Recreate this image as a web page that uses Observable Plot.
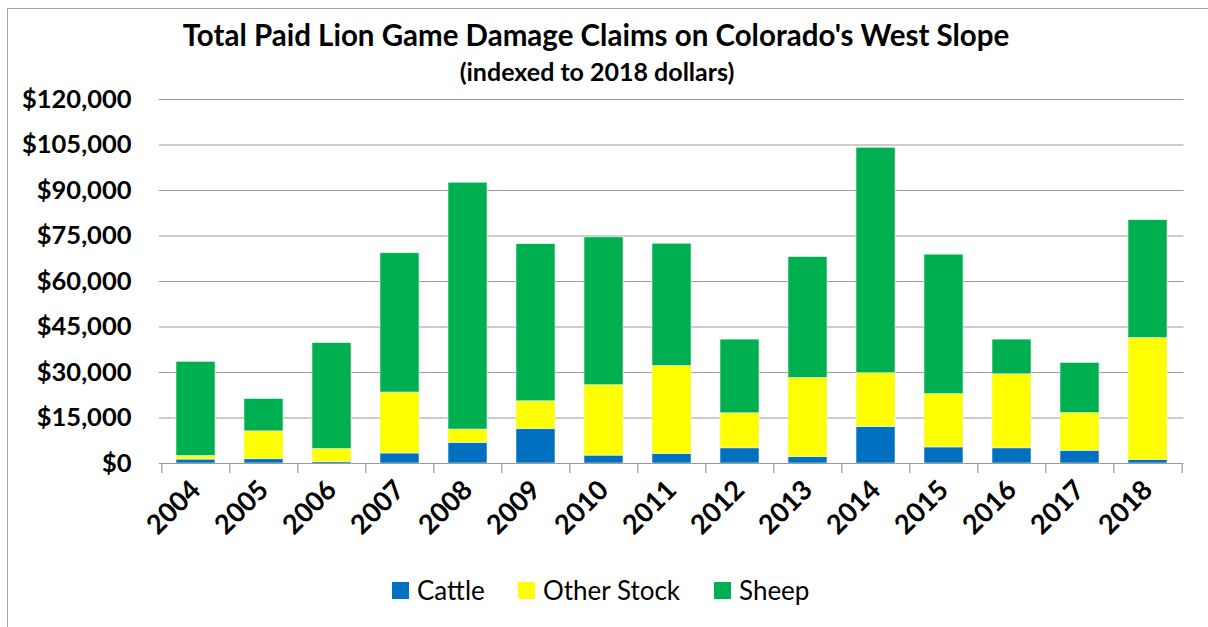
<!DOCTYPE html>
<html>
<head>
<meta charset="utf-8">
<script src="https://cdn.jsdelivr.net/npm/d3@7"></script>
<script src="https://cdn.jsdelivr.net/npm/@observablehq/plot@0.6"></script>
<style>
  html, body { margin: 0; padding: 0; background: #fff; }
  #wrap { position: relative; width: 1208px; height: 627px; overflow: hidden; font-family: Lato, "Open Sans", sans-serif; }
  #frame { position: absolute; left: 7px; top: 8px; width: 1300px; height: 700px; border-top: 1px solid #a6a6a6; border-left: 1px solid #a6a6a6; }
  #title { position: absolute; left: 0; width: 1192px; top: 17px; text-align: center; font-weight: bold; font-size: 29.5px; color: #000; line-height: 36px; }
  #subtitle { position: absolute; left: 0; width: 1194px; top: 57px; text-align: center; font-weight: bold; font-size: 25px; color: #000; line-height: 28px; }
  #chart { position: absolute; left: 0; top: 75px; }
  #legend { position: absolute; top: 575px; left: 0; width: 1208px; height: 30px; }
  .item { position: absolute; top: 0; display: flex; align-items: center; height: 30px; font-size: 26px; color: #000; }
  .sw { width: 17px; height: 17px; margin-right: 8px; }
</style>
</head>
<body>
<div id="wrap">
  <div id="frame"></div>
  <div id="title">Total Paid Lion Game Damage Claims on Colorado's West Slope</div>
  <div id="subtitle">(indexed to 2018 dollars)</div>
  <div id="chart"></div>
  <div id="legend"></div>
</div>
<script>
const years = ["2004","2005","2006","2007","2008","2009","2010","2011","2012","2013","2014","2015","2016","2017","2018"];
const cattle     = [1300, 1400,  500,  3300,  6800, 11300,  2600,  3100,  5000,  2100, 12000,  5300,  5000,  4200,  1200];
const otherStock = [1200, 9200, 4300, 20100,  4400,  9200, 23200, 29050, 11550, 26100, 17750, 17550, 24400, 12400, 40150];
const sheep      = [31000, 10650, 34900, 45900, 81350, 51800, 48750, 40300, 24300, 39850, 74350, 46000, 11450, 16550, 38850];
const yTicks = [0, 15000, 30000, 45000, 60000, 75000, 90000, 105000, 120000];
const seriesNames = ["Cattle", "Other Stock", "Sheep"];
const seriesColors = ["#0070C0", "#FFFF00", "#00B050"];
const seriesValues = [cattle, otherStock, sheep];

const rows = [];
years.forEach((yr, i) => {
  seriesNames.forEach((s, k) => rows.push({year: yr, type: s, value: seriesValues[k][i]}));
});

const W = 1208, ML = 159, MR = 24.5;
const step = (W - ML - MR) / years.length;
const fmt = d => "$" + d3.format(",")(d);

const chart = Plot.plot({
  width: W,
  height: 490,
  marginTop: 24,
  marginBottom: 102,
  marginLeft: ML,
  marginRight: MR,
  style: { fontFamily: "Lato, 'Open Sans', sans-serif", background: "transparent", color: "#000", overflow: "visible" },
  x: { domain: years, paddingInner: 0.43, paddingOuter: 0.215, axis: null },
  y: { domain: [0, 120000], axis: null },
  color: { domain: seriesNames, range: seriesColors },
  marks: [
    Plot.ruleY(yTicks.slice(1), { stroke: "#9a9a9a", strokeWidth: 1.2 }),
    Plot.barY(rows, { x: "year", y: "value", fill: "type", stroke: "#e8f5ec", strokeWidth: 0.6 }),
    Plot.ruleY([0], { stroke: "#9a9a9a", strokeWidth: 1.2 }),
    Plot.ruleX(years, { x: d => d, y1: 0, y2: 0, insetBottom: -10, dx: -step / 2, stroke: "#9a9a9a", strokeWidth: 1.2 }),
    Plot.ruleX(years.slice(-1), { x: d => d, y1: 0, y2: 0, insetBottom: -10, dx: step / 2, stroke: "#9a9a9a", strokeWidth: 1.2 }),
    Plot.text(yTicks, { y: d => d, frameAnchor: "left", text: fmt, textAnchor: "end", dx: -28, fontSize: 25.5, fontWeight: "bold", fill: "#000" }),
    Plot.text(years, { x: d => d, frameAnchor: "bottom", text: d => d, rotate: -45, textAnchor: "end", lineAnchor: "middle", dx: 0, dy: 22, fontSize: 27, fontWeight: "bold", fill: "#000" })
  ]
});
document.getElementById("chart").appendChild(chart);

const legend = document.getElementById("legend");
const legendLeft = [392, 518, 714];
seriesNames.forEach((s, k) => {
  const it = document.createElement("div");
  it.className = "item";
  it.style.left = legendLeft[k] + "px";
  const sw = document.createElement("div");
  sw.className = "sw";
  sw.style.background = seriesColors[k];
  it.appendChild(sw);
  const t = document.createElement("span");
  t.textContent = s;
  it.appendChild(t);
  legend.appendChild(it);
});
</script>
</body>
</html>
